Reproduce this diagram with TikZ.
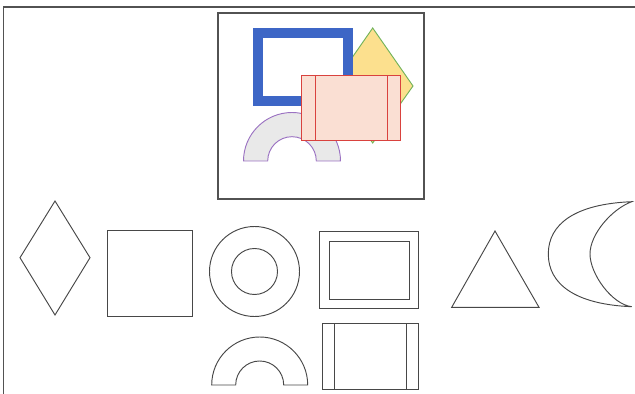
\documentclass[tikz,border=0pt]{standalone}
\usetikzlibrary{calc}
\definecolor{frameblue}{HTML}{3D66C6}
\definecolor{diafill}{HTML}{FCE08E}
\definecolor{diaedge}{HTML}{72B35A}
\definecolor{pinkfill}{HTML}{FADFD3}
\definecolor{rededge}{HTML}{D9423E}
\definecolor{archfill}{HTML}{E9E9E9}
\definecolor{archedge}{HTML}{9B72C2}
\begin{document}
\begin{tikzpicture}[
  x=0.03cm,y=0.03cm,
  outline/.style={draw=black!72,line width=0.8pt},
  panel/.style={draw=black!68,line width=1.2pt},
  bluebox/.style={draw=frameblue,line width=10*0.03cm,fill=white},
  yellowdia/.style={draw=diaedge,line width=0.8pt,fill=diafill},
  pinkbox/.style={draw=rededge,line width=0.8pt,fill=pinkfill},
  grayarch/.style={draw=archedge,line width=0.8pt,fill=archfill}
]
\useasboundingbox (0,0) rectangle (635,394);
\draw[panel] (3.5,0) -- (3.5,387) -- (635,387);

% Overlapping coloured shapes inside the upper panel.
\draw[panel] (218,195) rectangle (424,381);
\draw[yellowdia] (372.7,366) -- (413,308) -- (372.7,251) -- (332.4,308) -- cycle;
\draw[bluebox] (257.5,292.5) rectangle (348,361);
\coordinate (archtop) at (292,233);
\draw[grayarch] ($(archtop)+(-48.5,0)$) arc[start angle=180,end angle=0,radius=48.5]
  -- ($(archtop)+(24.3,0)$) arc[start angle=0,end angle=180,radius=24.3] -- cycle;
\draw[pinkbox] (301.7,254) rectangle (400,319);
\draw[pinkbox] (315,254) -- (315,319) (387.3,254) -- (387.3,319);

% Plain outlined shapes along the bottom.
\draw[outline] (55,193) -- (90,136.3) -- (55,79) -- (20,136.3) -- cycle;
\draw[outline] (107.7,78) rectangle (192.3,163.3);
\coordinate (ring) at (254.5,122.5);
\draw[outline] (ring) circle[radius=45] (ring) circle[radius=23];
\coordinate (archlow) at (259.7,9);
\draw[outline] ($(archlow)+(-48,0)$) arc[start angle=180,end angle=0,radius=48]
  -- ($(archlow)+(24,0)$) arc[start angle=0,end angle=180,radius=24] -- cycle;
\draw[outline] (319.3,85.7) rectangle (418.7,162.3);
\draw[outline] (329,95) rectangle (409,153);
\draw[outline] (322.3,5) rectangle (418.7,70.3);
\draw[outline] (334.3,5) -- (334.3,70.3) (406.7,5) -- (406.7,70.3);
\draw[outline] (495,163) -- (539,86.7) -- (451.7,86.7) -- cycle;
\coordinate (moontip) at (631.7,192.3);
\coordinate (moonend) at (631.7,87.3);
\draw[outline,line join=miter] (moontip) .. controls (575,190) and (548.3,170) .. (548.3,140)
  .. controls (548.3,110) and (575,89.6) .. (moonend)
  .. controls (612,89.6) and (590,120) .. (590,140)
  .. controls (590,160) and (612,185) .. cycle;
\end{tikzpicture}
\end{document}
